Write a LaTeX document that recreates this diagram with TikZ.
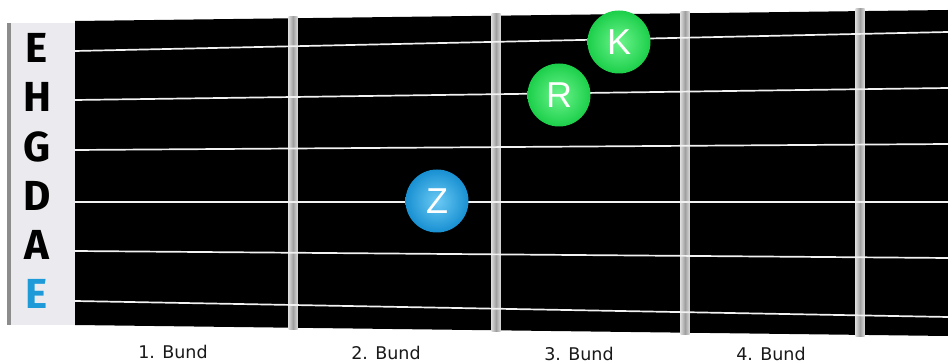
\documentclass[tikz,border=0pt]{standalone}
\usepackage{fontspec}
\setmainfont{DejaVu Sans}
\newfontfamily\letterfont{Fira Sans}
\newfontfamily\dotfont{Liberation Sans}
\definecolor{panel}{HTML}{EAEAEF}
\definecolor{nutbar}{HTML}{8C8C8C}
\definecolor{eblue}{HTML}{1E9AD8}
\definecolor{gin}{HTML}{6CF48C}
\definecolor{gout}{HTML}{1CCF4A}
\definecolor{bin}{HTML}{6CCAF4}
\definecolor{bout}{HTML}{1890D2}
\definecolor{strcol}{HTML}{F2F2F2}
\tikzset{
  strname/.style={font=\letterfont\bfseries\fontsize{42}{42}\selectfont, inner sep=0pt},
  fretlabel/.style={font=\fontsize{17.5}{18}\selectfont, text=black!90, inner sep=0pt},
  dotgreen/.style={circle, minimum size=63pt, inner sep=0pt, shading=radial, inner color=gin, outer color=gout, text=white, font=\dotfont\fontsize{36}{36}\selectfont},
  dotblue/.style={circle, minimum size=63pt, inner sep=0pt, shading=radial, inner color=bin, outer color=bout, text=white, font=\dotfont\fontsize{36}{36}\selectfont},
  guitarstring/.style={draw=strcol, line width=1.7pt},
  fretbar/.style={left color=gray!30, right color=gray!30, middle color=gray!75}
}
\begin{document}
\begin{tikzpicture}[x=1pt,y=-1pt]
\useasboundingbox (0,0) rectangle (948,363);
\fill[white] (0,0) rectangle (948,363);
% nut panel
\fill[panel] (10,23) rectangle (75,325);
\fill[nutbar] (7,23) rectangle (10.5,325);
% fretboard
\fill[black] (75,21) -- (948,10) -- (948,336) -- (75,325) -- cycle;
% frets
\shade[fretbar] (288.5,16.5) rectangle (297.5,329.5);
\shade[fretbar] (491.5,14) rectangle (500.5,332);
\shade[fretbar] (680.5,11.5) rectangle (689.5,334.5);
\shade[fretbar] (855.5,9) rectangle (864.5,336.5);
% strings
\foreach \i/\yl/\yr in {1/51/32, 2/100/88, 3/150/144, 4/202/202, 5/251/258, 6/301/317}{
  \coordinate (sl\i) at (75,\yl);
  \coordinate (sr\i) at (948,\yr);
  \draw[guitarstring] (sl\i) -- (sr\i);
}
% string names
\node[strname] (n1) at (37,48) {E};
\node[strname] (n2) at (37,97) {H};
\node[strname] (n3) at (37,147) {G};
\node[strname] (n4) at (37,196) {D};
\node[strname] (n5) at (37,245) {A};
\node[strname, text=eblue] (n6) at (37,294) {E};
% finger dots
\node[dotgreen] (K) at (619,42) {K};
\node[dotgreen] (R) at (559,95) {R};
\node[dotblue] (Z) at (437,201) {Z};
% fret labels
\node[fretlabel] (b1) at (173,352) {1. Bund};
\node[fretlabel] (b2) at (386,353) {2. Bund};
\node[fretlabel] (b3) at (579,354) {3. Bund};
\node[fretlabel] (b4) at (771,354) {4. Bund};
\end{tikzpicture}
\end{document}
